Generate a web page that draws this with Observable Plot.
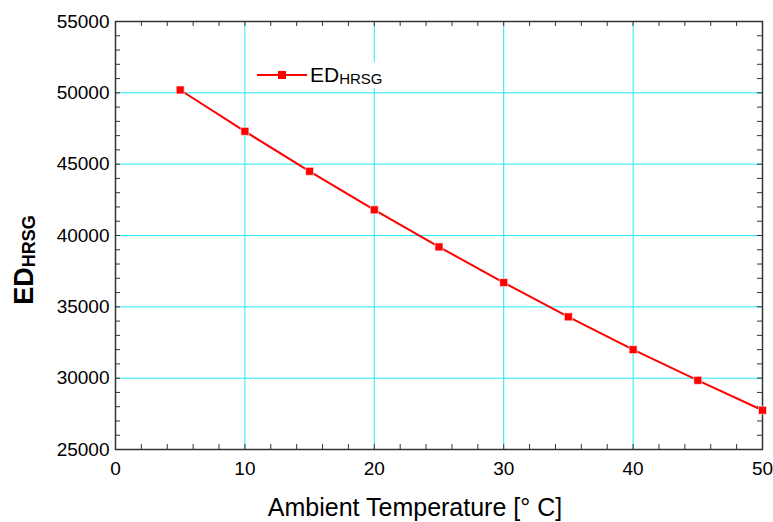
<!DOCTYPE html>
<html><head><meta charset="utf-8">
<script src="https://cdn.jsdelivr.net/npm/d3@7"></script>
<script src="https://cdn.jsdelivr.net/npm/@observablehq/plot@0.6"></script>
<style>body{margin:0;background:#fff} #chart{position:relative;width:773px;height:522px}</style>
</head><body><div id="chart"></div>
<script>
const temperature = [5, 10, 15, 20, 25, 30, 35, 40, 45, 50];
const edHRSG = [50200, 47300, 44500, 41800, 39200, 36700, 34300, 32000, 29850, 27750];
const xTicks = [0, 10, 20, 30, 40, 50];
const yTicks = [25000, 30000, 35000, 40000, 45000, 50000, 55000];
const xGrid = [10, 20, 30, 40];
const yGrid = [30000, 35000, 40000, 45000, 50000];
const xMinor = d3.range(0, 51, 2);
const yMinor = d3.range(25000, 55001, 1000);
const xLabel = "Ambient Temperature [° C]";
const seriesMain = "ED";
const seriesSub = "HRSG";

const data = temperature.map((t, i) => ({t, v: edHRSG[i]}));

const W = 773, H = 522, mt = 21, mb = 73, ml = 115, mr = 11;
const ph = H - mt - mb, pw = W - ml - mr;
const font = "'Liberation Sans', Arial, sans-serif";
const gridColor = "#22eaf4";
const axisColor = "#333";

const chart = Plot.plot({
  width: W, height: H, marginTop: mt, marginBottom: mb, marginLeft: ml, marginRight: mr,
  style: {fontFamily: font, background: "#fff", color: "#000", overflow: "visible"},
  x: {domain: [0, 50]},
  y: {domain: [25000, 55000]},
  marks: [
    Plot.gridX(xGrid, {stroke: gridColor, strokeOpacity: 1, strokeWidth: 1}),
    Plot.gridY(yGrid, {stroke: gridColor, strokeOpacity: 1, strokeWidth: 1}),
    Plot.tickX(xMinor, {x: d => d, insetTop: ph - 5, stroke: axisColor}),
    Plot.tickX(xMinor, {x: d => d, insetBottom: ph - 5, stroke: axisColor}),
    Plot.tickY(yMinor, {y: d => d, insetRight: pw - 5, stroke: axisColor}),
    Plot.tickY(yMinor, {y: d => d, insetLeft: pw - 5, stroke: axisColor}),
    Plot.frame({stroke: axisColor, strokeWidth: 1.5}),
    Plot.axisX(xTicks, {tickSize: 0, tickPadding: 12, fontSize: 19, label: null}),
    Plot.axisY(yTicks, {tickSize: 0, tickPadding: 6, fontSize: 19, label: null, tickFormat: d => String(d)}),
    Plot.line(data, {x: "t", y: "v", stroke: "red", strokeWidth: 2}),
    Plot.dot(data, {x: "t", y: "v", symbol: "square", fill: "red", r: 4.5, stroke: "#fff", strokeWidth: 0.6})
  ]
});
document.getElementById("chart").appendChild(chart);

const svg = d3.select(chart);
// x-axis title
svg.append("text")
  .attr("x", 415).attr("y", 516)
  .attr("text-anchor", "middle")
  .attr("font-family", font).attr("font-size", 25).attr("fill", "#000")
  .text(xLabel);
// y-axis title
const yt = svg.append("text")
  .attr("transform", "translate(33,260) rotate(-90)")
  .attr("text-anchor", "middle")
  .attr("font-family", font).attr("font-weight", "bold").attr("fill", "#000");
yt.append("tspan").attr("font-size", 27).text(seriesMain);
yt.append("tspan").attr("font-size", 18).attr("dy", 2).text(seriesSub);
// legend
const lg = svg.append("g");
lg.append("rect").attr("x", 250).attr("y", 62).attr("width", 135).attr("height", 26).attr("fill", "#fff");
lg.append("line").attr("x1", 257).attr("x2", 307).attr("y1", 75).attr("y2", 75).attr("stroke", "red").attr("stroke-width", 2);
lg.append("rect").attr("x", 278).attr("y", 71).attr("width", 8).attr("height", 8).attr("fill", "red");
const lt = lg.append("text").attr("x", 310).attr("y", 82).attr("text-anchor", "start")
  .attr("font-family", font).attr("fill", "#000");
lt.append("tspan").attr("font-size", 21).text(seriesMain);
lt.append("tspan").attr("font-size", 15).attr("dy", 2).text(seriesSub);
</script></body></html>
